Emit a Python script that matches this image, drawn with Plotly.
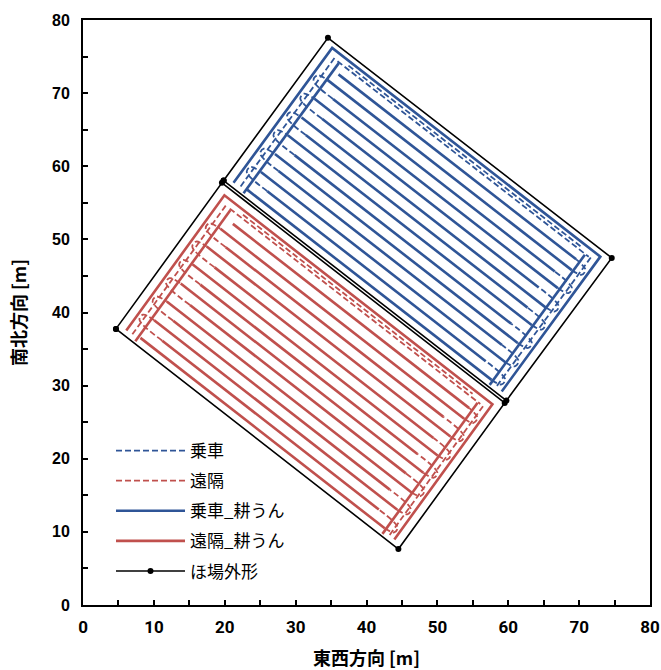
import math
import plotly.graph_objects as go

BLUE = "#2F5597"
RED = "#C0504D"

# ---- field outlines: west, north, east, south corners [m] ----
red_corner_x = [4.65, 19.6, 59.5, 44.5]
red_corner_y = [37.76, 57.73, 27.63, 7.65]
blue_corner_x = [19.84, 34.56, 74.6, 59.74]
blue_corner_y = [58.05, 77.56, 47.47, 27.95]

# ---- straight tillage passes in field-local metres ----
# s: along the long side from the west short edge, t: across from the south long edge
blue_pass_t = [1.0, 2.55, 4.1, 5.7, 7.25, 8.8, 10.4, 11.95, 13.5, 15.1, 16.65, 18.2, 19.8, 21.35]
blue_pass_s0 = [3.4, 5.8, 3.5, 5.4, 3.6, 5.9, 3.5, 5.5, 3.6, 6.0, 3.5, 5.6, 3.4, 4.2]
blue_pass_s1 = [46.6, 44.4, 46.7, 44.9, 46.5, 44.2, 46.6, 44.7, 46.7, 44.3, 46.5, 44.8, 46.6, 46.2]

red_pass_t = [1.1, 2.65, 4.2, 5.75, 7.3, 8.9, 10.45, 12.0, 13.55, 15.1, 16.7, 18.25, 19.8, 21.4]
red_pass_s0 = [3.5, 6.2, 3.6, 5.8, 3.5, 6.4, 3.6, 5.9, 3.4, 6.1, 3.5, 5.7, 3.6, 4.6]
red_pass_s1 = [46.7, 44.5, 46.6, 44.1, 46.8, 44.6, 46.5, 44.3, 46.7, 44.8, 46.6, 44.2, 46.7, 46.4]

# ---- headland tillage laps (s, t) ----
blue_headland_till = [
    [(1.3, 0.6), (1.3, 23.7), (48.7, 23.7), (48.7, 0.6)],
    [(3.3, 0.3), (3.3, 22.6)],
    [(46.8, 0.3), (46.8, 22.6)],
]
red_headland_till = [
    [(1.3, 0.7), (1.3, 23.8), (48.7, 23.8), (48.7, 0.7)],
    [(3.2, 0.3), (3.2, 22.7)],
    [(46.9, 0.3), (46.9, 22.7)],
]

# ---- travel without tillage (s, t) ----
blue_travel = [
    [(2.4, 0.8), (2.4, 22.9)],
    [(47.7, 0.8), (47.7, 22.9)],
    [(3.0, 22.7), (47.4, 22.7)],
    [(4.6, 23.15), (46.0, 23.15)],
]
red_travel = [
    [(2.3, 0.8), (2.3, 23.0)],
    [(47.8, 0.8), (47.8, 23.0)],
    [(3.0, 22.8), (47.3, 22.8)],
    [(5.0, 23.25), (45.6, 23.25)],
]
# how far each turn loop reaches into the headland (west, east)
blue_turn_reach = [1.9, 48.1]
red_turn_reach = [1.9, 48.1]

TURN_INSET = 0.35


def frame(cx, cy):
    ox, oy = cx[0], cy[0]
    ux, uy = cx[3] - ox, cy[3] - oy
    lu = math.hypot(ux, uy)
    vx, vy = cx[1] - ox, cy[1] - oy
    lv = math.hypot(vx, vy)
    return ox, oy, ux / lu, uy / lu, vx / lv, vy / lv


def to_xy(fr, pts):
    ox, oy, ux, uy, vx, vy = fr
    xs = [ox + s * ux + t * vx for s, t in pts]
    ys = [oy + s * uy + t * vy for s, t in pts]
    return xs, ys


def join(fr, polylines):
    X, Y = [], []
    for pl in polylines:
        xs, ys = to_xy(fr, pl)
        X += xs + [None]
        Y += ys + [None]
    return X, Y


def till_lines(fr, pass_t, s0, s1, headland):
    lines = [[(a, t), (b, t)] for t, a, b in zip(pass_t, s0, s1)]
    return join(fr, lines + headland)


def travel_lines(fr, pass_t, s0, s1, reach, travel):
    loops = []
    for i in range(len(pass_t) - 1):
        ta, tb = pass_t[i], pass_t[i + 1]
        if i % 2 == 0:
            a, b, r = s1[i], s1[i + 1], reach[1]
        else:
            a, b, r = s0[i], s0[i + 1], reach[0]
        loops.append([(a, ta), (r, ta + TURN_INSET), (r, tb - TURN_INSET), (b, tb)])
    return join(fr, loops + travel)


fr_blue = frame(blue_corner_x, blue_corner_y)
fr_red = frame(red_corner_x, red_corner_y)

fig = go.Figure()

dash_pat = "6px,3px"
x, y = travel_lines(fr_blue, blue_pass_t, blue_pass_s0, blue_pass_s1, blue_turn_reach, blue_travel)
fig.add_trace(go.Scatter(x=x, y=y, mode="lines", name="乗車", legendgroup="a",
                         line=dict(color=BLUE, width=1.8, dash=dash_pat, shape="spline", smoothing=1)))
x, y = travel_lines(fr_red, red_pass_t, red_pass_s0, red_pass_s1, red_turn_reach, red_travel)
fig.add_trace(go.Scatter(x=x, y=y, mode="lines", name="遠隔", legendgroup="b",
                         line=dict(color=RED, width=1.8, dash=dash_pat, shape="spline", smoothing=1)))
x, y = till_lines(fr_blue, blue_pass_t, blue_pass_s0, blue_pass_s1, blue_headland_till)
fig.add_trace(go.Scatter(x=x, y=y, mode="lines", name="乗車_耕うん", legendgroup="c",
                         line=dict(color=BLUE, width=2.6)))
x, y = till_lines(fr_red, red_pass_t, red_pass_s0, red_pass_s1, red_headland_till)
fig.add_trace(go.Scatter(x=x, y=y, mode="lines", name="遠隔_耕うん", legendgroup="d",
                         line=dict(color=RED, width=2.6)))

ox = blue_corner_x + [blue_corner_x[0], None] + red_corner_x + [red_corner_x[0]]
oy = blue_corner_y + [blue_corner_y[0], None] + red_corner_y + [red_corner_y[0]]
fig.add_trace(go.Scatter(x=ox, y=oy, mode="lines+markers", name="ほ場外形", legendgroup="e",
                         line=dict(color="black", width=1.6),
                         marker=dict(color="black", size=6)))

axis_common = dict(
    range=[0, 80], dtick=10, showgrid=False, zeroline=False, automargin=False,
    showline=True, linecolor="black", linewidth=1.8, mirror=True,
    ticks="inside", ticklen=5, tickwidth=1.5, tickcolor="black",
    minor=dict(dtick=5, ticks="inside", ticklen=5, tickwidth=1.5, tickcolor="black"),
)

fig.update_layout(
    width=661, height=670,
    margin=dict(l=83, r=11, t=20, b=65),
    paper_bgcolor="white", plot_bgcolor="white",
    font=dict(family="Noto Sans CJK JP", color="black"),
    xaxis=dict(**axis_common,
               tickfont=dict(family="Roboto, Liberation Sans", size=17, weight="bold", color="black"),
               ticklabelstandoff=6,
               title=dict(text="東西方向 [m]", standoff=19,
                          font=dict(family="Noto Sans CJK JP", size=18, weight="bold"))),
    yaxis=dict(**axis_common,
               tickfont=dict(family="Liberation Sans", size=16, weight="bold", color="black"),
               ticklabelstandoff=8,
               title=dict(text="南北方向 [m]", standoff=21,
                          font=dict(family="Noto Sans CJK JP", size=18, weight="bold"))),
    legend=dict(x=(111 - 83) / 567, y=(605 - 433) / 585, xanchor="left", yanchor="top",
                bgcolor="rgba(0,0,0,0)", itemwidth=69, tracegroupgap=5,
                traceorder="grouped",
                font=dict(family="Noto Sans CJK JP", size=17, color="black")),
)

fig.write_html("out.html")
